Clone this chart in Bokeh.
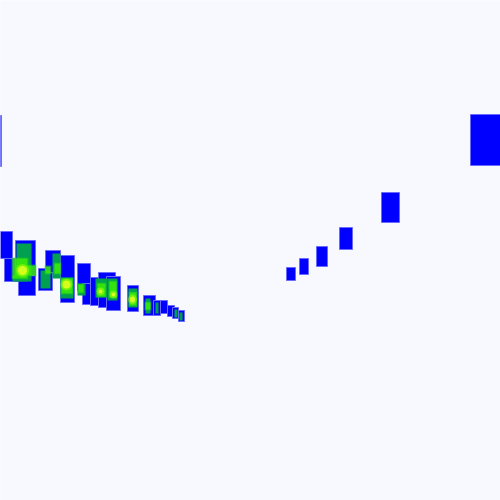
from bokeh.plotting import figure
from bokeh.models import Range1d
from bokeh.embed import file_html
from bokeh.resources import INLINE

# Blue boxes (left, right, top, bottom)
blue_left   = [-30, 470, 381, 339, 316, 299, 286,
               0, 4, 15, 18, 38, 45, 60, 77, 82, 90, 98, 106, 127, 143, 153, 160, 167, 172, 178]
blue_right  = [1, 530, 399, 352, 327, 308, 295,
               12, 15, 35, 35, 52, 60, 74, 90, 93, 107, 115, 120, 138, 155, 160, 167, 174, 178, 184]
blue_top    = [115, 114, 192, 227, 246, 258, 267,
               231, 258, 240, 275, 268, 250, 255, 263, 283, 277, 272, 276, 285, 295, 300, 300, 305, 307, 310]
blue_bottom = [166, 165, 222, 249, 266, 274, 280,
               258, 281, 281, 295, 290, 272, 302, 290, 304, 305, 307, 310, 311, 315, 315, 313, 316, 318, 321]

# Overlap (dark green) boxes
green_left   = [16, 52, 40, 60, 77, 95, 107, 128, 145, 155, 174, 179, 12]
green_right  = [31, 60, 50, 73, 85, 107, 117, 137, 150, 158, 177, 182, 27]
green_top    = [243, 253, 270, 277, 283, 278, 278, 288, 298, 302, 309, 312, 275]
green_bottom = [281, 278, 288, 298, 295, 297, 300, 307, 313, 313, 317, 320, 281]

# Dense (lime) boxes
lime_left   = [12, 16, 45, 54, 61, 78, 97, 109, 129, 145]
lime_right  = [27, 35, 50, 60, 72, 83, 105, 116, 136, 150]
lime_top    = [258, 265, 266, 263, 278, 284, 283, 281, 292, 302]
lime_bottom = [278, 275, 273, 273, 293, 292, 296, 297, 305, 309]

# Densest (yellow) spots (centre x, centre y, width, height)
yel_x = [22, 66, 132, 100, 113]
yel_y = [270, 284, 299, 291, 294]
yel_w = [9, 8, 5, 4, 4]
yel_h = [9, 8, 6, 4, 4]

p = figure(width=500, height=500, output_backend="svg", toolbar_location=None,
           x_range=Range1d(0, 500), y_range=Range1d(500, 0),
           min_border=0, background_fill_color="#f8f8ff", border_fill_color="#f8f8ff",
           outline_line_color=None)
p.axis.visible = False
p.grid.visible = False

p.quad(left=blue_left, right=blue_right, top=blue_top, bottom=blue_bottom,
       fill_color="#0000ff", line_color="#6a6aff", line_width=1)
p.quad(left=green_left, right=green_right, top=green_top, bottom=green_bottom,
       fill_color="#00a050", line_color=None)
# soft halo then core of the dense areas
p.quad(left=[v - 1 for v in lime_left], right=[v + 1 for v in lime_right],
       top=[v - 1 for v in lime_top], bottom=[v + 1 for v in lime_bottom],
       fill_color="#20d020", fill_alpha=0.45, line_color=None)
p.quad(left=lime_left, right=lime_right, top=lime_top, bottom=lime_bottom,
       fill_color="#40f000", fill_alpha=0.75, line_color=None)
p.ellipse(x=yel_x, y=yel_y, width=[w + 4 for w in yel_w], height=[h + 4 for h in yel_h],
          fill_color="#a8ff10", fill_alpha=0.5, line_color=None)
p.ellipse(x=yel_x, y=yel_y, width=yel_w, height=yel_h,
          fill_color="#e8ff20", fill_alpha=0.85, line_color=None)

open("out.html", "w").write(file_html(p, INLINE))
